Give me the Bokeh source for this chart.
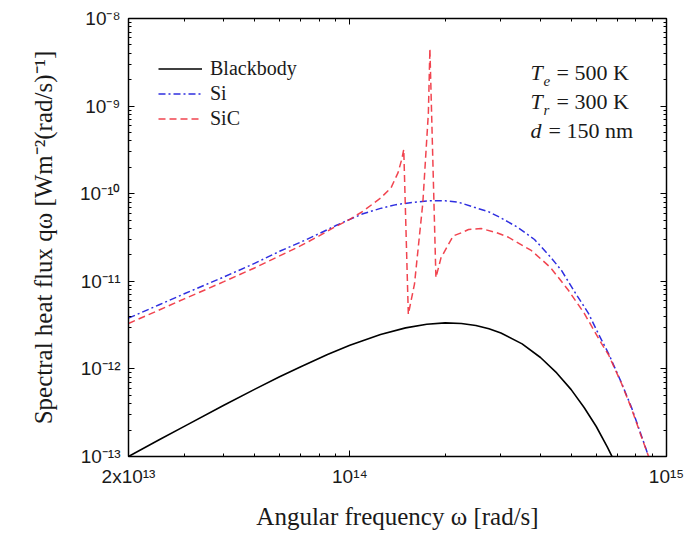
from bokeh.plotting import figure
from bokeh.models import (LogAxis, FixedTicker, CustomJSTickFormatter, Legend,
                          LegendItem, Label, Range1d)
from bokeh.embed import file_html
from bokeh.resources import INLINE

# ---------------- data ----------------
bb_omega = [2e13, 2.5e13, 3e13, 4e13, 5e13, 6e13, 7e13, 8.5e13, 1e14, 1.25e14,
            1.5e14, 1.75e14, 2e14, 2.25e14, 2.5e14, 2.75e14, 3e14, 3.5e14, 4e14,
            4.5e14, 5e14, 5.5e14, 6e14, 6.5e14, 7e14]
bb_q = [1.0e-13, 1.55e-13, 2.21e-13, 3.85e-13, 5.84e-13, 8.13e-13, 1.06e-12,
        1.46e-12, 1.86e-12, 2.47e-12, 2.94e-12, 3.24e-12, 3.35e-12, 3.30e-12,
        3.13e-12, 2.88e-12, 2.57e-12, 1.93e-12, 1.35e-12, 9.0e-13, 5.8e-13,
        3.6e-13, 2.2e-13, 1.29e-13, 7.5e-14]

si_omega = [2e13, 2.5e13, 3e13, 4e13, 5e13, 6e13, 7e13, 8e13, 9e13, 1e14, 1.1e14,
            1.25e14, 1.4e14, 1.6e14, 1.8e14, 2.0e14, 2.2e14, 2.47e14, 2.75e14,
            3.0e14, 3.4e14, 3.83e14, 4.3e14, 4.66e14, 5.2e14, 5.67e14, 6.1e14,
            6.56e14, 7.2e14, 7.76e14, 8.3e14, 8.78e14, 9.2e14]
si_q = [3.8e-12, 5.4e-12, 7.2e-12, 1.12e-11, 1.6e-11, 2.2e-11, 2.8e-11, 3.5e-11,
        4.3e-11, 5.1e-11, 5.9e-11, 6.8e-11, 7.5e-11, 8.0e-11, 8.3e-11, 8.3e-11,
        8.0e-11, 7.0e-11, 6.2e-11, 5.3e-11, 4.1e-11, 3.0e-11, 1.9e-11, 1.33e-11,
        7.0e-12, 4.3e-12, 2.5e-12, 1.5e-12, 7.0e-13, 3.6e-13, 1.8e-13, 1.0e-13,
        6.0e-14]

sic_omega = [2e13, 2.5e13, 3e13, 4e13, 5e13, 6e13, 7e13, 8e13, 9e13, 1e14, 1.1e14,
             1.25e14, 1.35e14, 1.42e14, 1.46e14, 1.48e14, 1.53e14, 1.60e14,
             1.70e14, 1.77e14, 1.79e14, 1.87e14, 1.94e14, 2.12e14, 2.26e14,
             2.37e14, 2.6e14, 2.9e14, 3.16e14, 3.74e14, 4.3e14, 4.9e14, 5.5e14,
             6.23e14, 6.56e14, 7.2e14, 7.76e14, 8.3e14, 8.78e14, 9.2e14]
sic_q = [3.3e-12, 4.7e-12, 6.3e-12, 9.9e-12, 1.42e-11, 1.95e-11, 2.55e-11, 3.3e-11,
         4.2e-11, 5.1e-11, 6.3e-11, 8.9e-11, 1.17e-10, 1.74e-10, 2.5e-10, 3.2e-10,
         4.2e-12, 9.3e-12, 7.8e-11, 8.3e-10, 4.5e-9, 1.1e-11, 1.85e-11, 3.3e-11,
         3.6e-11, 3.9e-11, 4.0e-11, 3.6e-11, 3.2e-11, 2.25e-11, 1.44e-11, 7.9e-12,
         4.3e-12, 1.96e-12, 1.45e-12, 6.9e-13, 3.5e-13, 1.75e-13, 1.0e-13, 6.0e-14]

series_names = ["Blackbody", "Si", "SiC"]

x_tick_values = [2e13, 1e14, 1e15]
x_tick_labels = ["2x10\u00b9\u00b3", "10\u00b9\u2074", "10\u00b9\u2075"]
y_tick_values = [1e-13, 1e-12, 1e-11, 1e-10, 1e-9, 1e-8]
y_tick_labels = ["10\u207b\u00b9\u00b3", "10\u207b\u00b9\u00b2", "10\u207b\u00b9\u00b9",
                 "10\u207b\u00b9\u2070", "10\u207b\u2079", "10\u207b\u2078"]

# ---------------- figure ----------------
SERIF = "Liberation Serif"
SANS = "Liberation Sans"
TXT = "#1a1a1a"

p = figure(width=686, height=538, x_axis_type="log", y_axis_type="log",
           x_range=Range1d(2e13, 1e15), y_range=Range1d(1e-13, 1e-8),
           output_backend="svg", toolbar_location=None,
           min_border_left=128, min_border_right=20, min_border_top=18,
           min_border_bottom=82, background_fill_color="white",
           border_fill_color="white")
p.grid.visible = False
p.outline_line_color = "black"
p.outline_line_width = 1.3

x_minor = [3e13, 4e13, 5e13, 6e13, 7e13, 8e13, 9e13,
           2e14, 3e14, 4e14, 5e14, 6e14, 7e14, 8e14, 9e14]
y_minor = []
for d in [1e-13, 1e-12, 1e-11, 1e-10, 1e-9]:
    for k in range(2, 10):
        y_minor.append(k * d)

fmt_code = """
const lt = Math.log10(tick);
for (let i = 0; i < vals.length; i++) {
  if (Math.abs(Math.log10(vals[i]) - lt) < 1e-6) return labs[i];
}
return "";
"""

def style_axis(ax, show_labels):
    ax.axis_line_color = "black"
    ax.axis_line_width = 1.2
    ax.major_tick_in = 6
    ax.major_tick_out = 0
    ax.minor_tick_in = 3
    ax.minor_tick_out = 0
    ax.major_tick_line_color = "black"
    ax.minor_tick_line_color = "black"
    if not show_labels:
        ax.major_label_text_font_size = "0px"
        ax.major_label_standoff = 0

xt = FixedTicker(ticks=x_tick_values, minor_ticks=x_minor)
yt = FixedTicker(ticks=y_tick_values, minor_ticks=y_minor)
xf = CustomJSTickFormatter(args=dict(vals=x_tick_values, labs=x_tick_labels), code=fmt_code)
yf = CustomJSTickFormatter(args=dict(vals=y_tick_values, labs=y_tick_labels), code=fmt_code)

xa = p.xaxis[0]
xa.ticker = xt
xa.formatter = xf
style_axis(xa, True)
xa.major_label_text_font = SANS
xa.major_label_text_font_size = "19px"
xa.major_label_text_color = TXT
xa.major_label_standoff = 9
xa.axis_label = "Angular frequency \u03c9 [rad/s]"
xa.axis_label_text_font = SERIF
xa.axis_label_text_font_style = "normal"
xa.axis_label_text_font_size = "25px"
xa.axis_label_text_color = TXT
xa.axis_label_standoff = 13

ya = p.yaxis[0]
ya.ticker = yt
ya.formatter = yf
style_axis(ya, True)
ya.major_label_text_font = SANS
ya.major_label_text_font_size = "19px"
ya.major_label_text_color = TXT
ya.major_label_standoff = 8
ya.axis_label = "Spectral heat flux q\u03c9 [Wm\u207b\u00b2(rad/s)\u207b\u00b9]"
ya.axis_label_text_font = SERIF
ya.axis_label_text_font_style = "normal"
ya.axis_label_text_font_size = "25px"
ya.axis_label_text_color = TXT
ya.axis_label_standoff = 20

top = LogAxis(ticker=FixedTicker(ticks=x_tick_values, minor_ticks=x_minor),
              formatter=CustomJSTickFormatter(code='return "";'))
style_axis(top, False)
p.add_layout(top, "above")
right = LogAxis(ticker=FixedTicker(ticks=y_tick_values, minor_ticks=y_minor),
                formatter=CustomJSTickFormatter(code='return "";'))
style_axis(right, False)
p.add_layout(right, "right")

# ---------------- curves ----------------
r_bb = p.line(bb_omega, bb_q, line_color="black", line_width=1.6)
r_si = p.line(si_omega, si_q, line_color="#2f2fe0", line_width=1.5,
              line_dash="7 3 2 3")
r_sic = p.line(sic_omega, sic_q, line_color="#f0303c", line_width=1.5,
               line_dash="7 4", line_alpha=0.9)

legend = Legend(items=[LegendItem(label=series_names[0], renderers=[r_bb]),
                       LegendItem(label=series_names[1], renderers=[r_si]),
                       LegendItem(label=series_names[2], renderers=[r_sic])],
                location=(30, 326), padding=5, spacing=2,
                glyph_width=44, glyph_height=23, label_height=23,
                label_standoff=8,
                label_text_font=SERIF, label_text_font_size="20px",
                label_text_color=TXT,
                border_line_color=None, background_fill_alpha=0)
p.add_layout(legend, "center")

# ---------------- parameter annotations ----------------
def add_text(x, y, t, size="22px", style="normal"):
    p.add_layout(Label(x=x, y=y, x_units="screen", y_units="screen", text=t,
                       text_font=SERIF, text_font_size=size, text_font_style=style,
                       text_color=TXT, text_baseline="middle",
                       text_align="left"))

add_text(402, 384, "T", style="italic")
add_text(415, 376, "e", size="15px", style="italic")
add_text(428, 384, "= 500 K")
add_text(402, 355, "T", style="italic")
add_text(415, 347, "r", size="15px", style="italic")
add_text(428, 355, "= 300 K")
add_text(402, 326, "d", style="italic")
add_text(420, 326, "= 150 nm")

open("out.html", "w").write(file_html(p, INLINE))
